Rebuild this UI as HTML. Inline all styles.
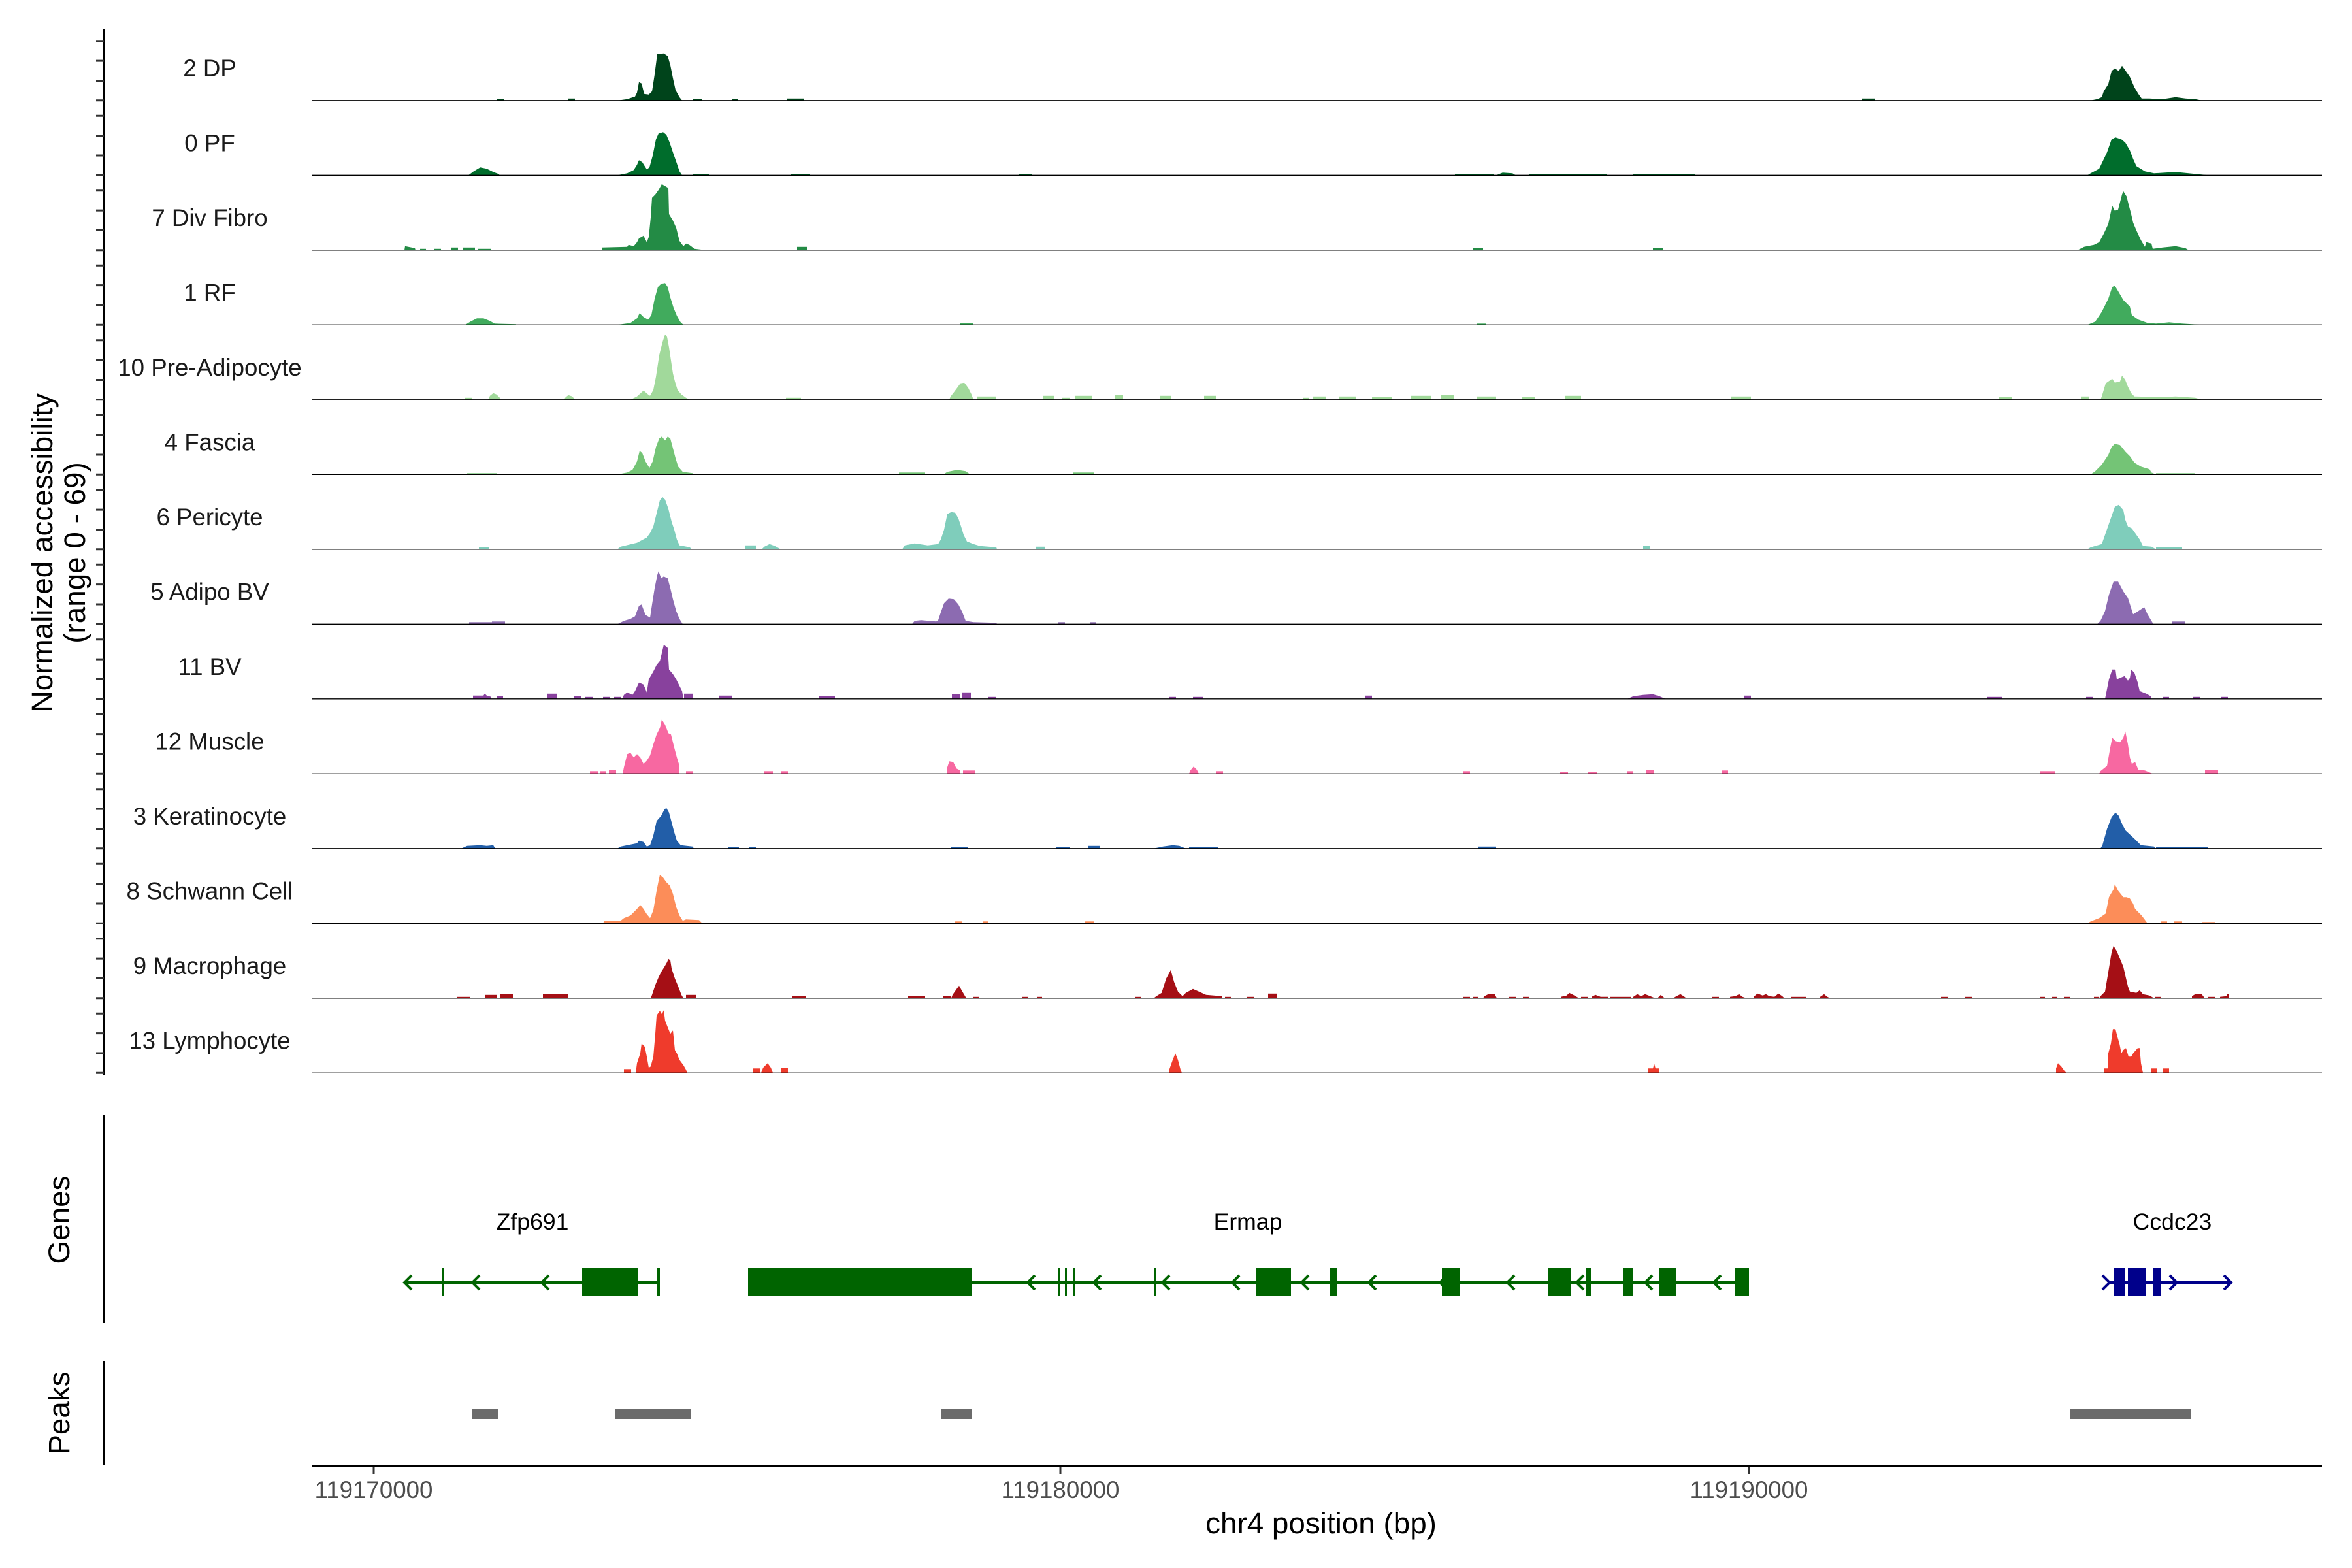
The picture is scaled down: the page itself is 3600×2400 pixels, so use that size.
<!DOCTYPE html>
<html><head><meta charset="utf-8"><style>
html,body{margin:0;padding:0;background:#fff;}
svg{display:block;font-family:"Liberation Sans",Arial,sans-serif;}
</style></head><body>
<svg width="3600" height="2400" viewBox="0 0 3600 2400" xmlns="http://www.w3.org/2000/svg">
<rect width="3600" height="2400" fill="#fff"/>
<defs>
<path id="tk" d="M147 0H159M147 -30.3H159M147 -60.7H159M147 -91H159" stroke="#333" stroke-width="3" fill="none"/>
<line id="bl" x1="478" y1="0" x2="3554" y2="0" stroke="#000" stroke-width="1.3"/>
</defs>

<!-- y axis title -->
<text transform="translate(80,846) rotate(-90)" text-anchor="middle" font-size="45.8" fill="#000">Normalized accessibility</text>
<text transform="translate(130,846) rotate(-90)" text-anchor="middle" font-size="45.8" fill="#000">(range 0 - 69)</text>
<line x1="159" y1="45" x2="159" y2="1645" stroke="#000" stroke-width="4"/>

<g font-size="36.7" fill="#1a1a1a" text-anchor="middle">
<!-- Track 0 -->
<g transform="translate(0,153.8)">
<use href="#tk"/><text x="321" y="-37">2 DP</text>
<g fill="#00441B">
<polygon points="946,0 960,-2 972,-6 975,-12 978,-28 982,-26 986,-10 993,-9 998,-14 1002,-40 1006,-71 1016,-72 1022,-68 1026,-54 1030,-34 1034,-16 1040,-5 1044,0"/>
<polygon points="3200,0 3210,-2 3217,-5 3220,-14 3227,-25 3232,-45 3237,-49 3243,-45 3248,-53 3253,-46 3260,-36 3267,-20 3273,-10 3278,-3 3290,-3 3310,-2 3330,-5 3345,-3 3360,-2 3370,0"/>
<rect x="1205" y="-3" width="25" height="3"/><rect x="2850" y="-3" width="20" height="3"/><rect x="760" y="-2" width="12" height="2"/><rect x="870" y="-3" width="10" height="3"/><rect x="1060" y="-2" width="15" height="2"/><rect x="1120" y="-2" width="10" height="2"/>
</g><use href="#bl"/></g>

<!-- Track 1 -->
<g transform="translate(0,268.3)">
<use href="#tk"/><text x="321" y="-37">0 PF</text>
<g fill="#006D2C">
<polygon points="717,0 725,-6 735,-12 745,-10 755,-5 763,-2 765,0"/>
<polygon points="945,0 960,-3 970,-8 975,-16 978,-23 983,-20 990,-9 994,-12 999,-30 1004,-55 1008,-64 1015,-66 1020,-62 1025,-50 1030,-35 1036,-18 1040,-6 1044,0"/>
<polygon points="3195,0 3200,-3 3213,-10 3225,-35 3232,-55 3238,-58 3247,-55 3253,-50 3260,-38 3265,-25 3270,-14 3283,-6 3297,-3 3330,-5 3350,-3 3380,0"/>
<polygon points="2290,0 2300,-4 2315,-3 2320,0"/>
<rect x="2227" y="-2" width="60" height="2"/><rect x="2340" y="-2" width="120" height="2"/><rect x="2500" y="-2" width="95" height="2"/><rect x="1060" y="-2" width="25" height="2"/><rect x="1210" y="-2" width="30" height="2"/><rect x="1560" y="-2" width="20" height="2"/>
</g><use href="#bl"/></g>

<!-- Track 2 -->
<g transform="translate(0,382.8)">
<use href="#tk"/><text x="321" y="-37">7 Div Fibro</text>
<g fill="#238B45">
<polygon points="619,0 620,-6 635,-3 636,0"/>
<rect x="643" y="-2" width="9" height="2"/><rect x="665" y="-2" width="10" height="2"/><rect x="690" y="-4" width="11" height="4"/><rect x="709" y="-4" width="18" height="4"/><rect x="731" y="-2" width="21" height="2"/>
<polygon points="921,0 922,-4 960,-5 962,-8 970,-6 975,-12 978,-18 985,-22 990,-12 993,-20 996,-50 998,-80 1003,-85 1008,-92 1013,-101 1018,-98 1023,-95 1024,-55 1030,-45 1035,-34 1040,-14 1046,-6 1050,-10 1055,-8 1063,-2 1080,0"/>
<rect x="1220" y="-5" width="15" height="5"/><rect x="2255" y="-3" width="15" height="3"/><rect x="2530" y="-3" width="15" height="3"/>
<polygon points="3180,0 3190,-5 3205,-8 3213,-12 3220,-25 3227,-40 3233,-68 3237,-60 3242,-62 3248,-85 3250,-90 3255,-82 3258,-70 3262,-55 3265,-42 3270,-30 3277,-15 3283,-5 3285,-12 3293,-10 3295,-2 3310,-4 3330,-6 3345,-3 3350,0"/>
</g><use href="#bl"/></g>

<!-- Track 3 -->
<g transform="translate(0,497.3)">
<use href="#tk"/><text x="321" y="-37">1 RF</text>
<g fill="#41AB5D">
<polygon points="712,0 720,-5 730,-10 740,-10 750,-6 757,-2 790,-1 790,0"/>
<polygon points="945,0 965,-3 975,-10 979,-18 985,-12 992,-8 997,-15 1002,-40 1007,-58 1012,-63 1018,-64 1022,-58 1026,-42 1031,-26 1036,-14 1041,-5 1046,0"/>
<polygon points="3195,0 3207,-5 3217,-20 3227,-40 3233,-58 3237,-60 3243,-50 3250,-38 3253,-35 3260,-28 3263,-15 3273,-8 3287,-3 3300,-2 3320,-4 3340,-2 3370,0"/>
<rect x="1470" y="-3" width="20" height="3"/><rect x="2260" y="-2" width="15" height="2"/>
</g><use href="#bl"/></g>

<!-- Track 4 -->
<g transform="translate(0,611.8)">
<use href="#tk"/><text x="321" y="-37">10 Pre-Adipocyte</text>
<g fill="#A1D99B">
<rect x="712" y="-3" width="10" height="3"/>
<polygon points="747,0 750,-6 755,-10 760,-8 765,-3 766,0"/>
<polygon points="863,0 866,-4 870,-7 876,-5 880,0"/>
<polygon points="965,0 975,-5 985,-14 992,-8 995,-6 1000,-15 1004,-35 1009,-68 1014,-88 1018,-100 1021,-96 1024,-80 1027,-60 1030,-40 1033,-28 1037,-15 1043,-8 1050,-3 1056,0"/>
<polygon points="1453,0 1455,-5 1459,-10 1465,-18 1470,-25 1476,-26 1482,-18 1487,-8 1490,0"/>
<rect x="1203" y="-3" width="23" height="3"/><rect x="1496" y="-5" width="29" height="5"/><rect x="1597" y="-6" width="17" height="6"/><rect x="1625" y="-3" width="12" height="3"/><rect x="1645" y="-6" width="26" height="6"/><rect x="1706" y="-7" width="13" height="7"/><rect x="1775" y="-6" width="17" height="6"/><rect x="1843" y="-6" width="18" height="6"/><rect x="1995" y="-3" width="8" height="3"/>
<rect x="2010" y="-5" width="20" height="5"/><rect x="2050" y="-5" width="25" height="5"/><rect x="2100" y="-4" width="30" height="4"/><rect x="2160" y="-6" width="30" height="6"/><rect x="2205" y="-7" width="20" height="7"/><rect x="2260" y="-5" width="30" height="5"/><rect x="2330" y="-4" width="20" height="4"/><rect x="2395" y="-6" width="25" height="6"/><rect x="2650" y="-5" width="30" height="5"/><rect x="3060" y="-4" width="20" height="4"/><rect x="3185" y="-5" width="12" height="5"/>
<polygon points="3215,0 3217,-5 3223,-25 3233,-32 3237,-26 3245,-28 3248,-37 3253,-30 3257,-20 3262,-10 3267,-5 3310,-4 3330,-5 3360,-3 3370,0"/>
</g><use href="#bl"/></g>

<!-- Track 5 -->
<g transform="translate(0,726.3)">
<use href="#tk"/><text x="321" y="-37">4 Fascia</text>
<g fill="#74C476">
<rect x="715" y="-2" width="45" height="2"/>
<polygon points="945,0 960,-3 968,-7 975,-20 979,-36 983,-33 988,-20 994,-10 999,-20 1004,-42 1009,-55 1013,-58 1018,-52 1022,-58 1026,-55 1030,-40 1034,-25 1038,-12 1045,-4 1060,-2 1062,0"/>
<rect x="1376" y="-3" width="40" height="3"/>
<polygon points="1444,0 1450,-4 1465,-7 1478,-5 1485,0"/>
<rect x="1642" y="-3" width="32" height="3"/>
<polygon points="3200,0 3207,-5 3217,-15 3227,-30 3232,-42 3237,-47 3245,-45 3253,-35 3260,-28 3267,-18 3277,-12 3290,-8 3293,-3 3300,0"/>
<rect x="3300" y="-2" width="60" height="2"/>
</g><use href="#bl"/></g>

<!-- Track 6 -->
<g transform="translate(0,840.8)">
<use href="#tk"/><text x="321" y="-37">6 Pericyte</text>
<g fill="#7FCDBB">
<rect x="733" y="-3" width="15" height="3"/>
<polygon points="945,0 950,-4 975,-10 990,-18 995,-25 1000,-35 1005,-55 1010,-75 1014,-80 1018,-76 1023,-62 1028,-42 1032,-30 1036,-15 1040,-6 1056,-3 1058,0"/>
<rect x="1140" y="-6" width="17" height="6"/>
<polygon points="1166,0 1170,-4 1178,-8 1186,-5 1195,0"/>
<polygon points="1381,0 1385,-6 1400,-9 1420,-6 1436,-8 1440,-15 1445,-30 1450,-54 1456,-57 1462,-56 1467,-47 1471,-35 1475,-22 1480,-12 1490,-8 1500,-5 1525,-3 1526,0"/>
<rect x="1585" y="-4" width="15" height="4"/><rect x="2515" y="-5" width="10" height="5"/>
<polygon points="3195,0 3200,-3 3217,-8 3223,-25 3230,-45 3237,-65 3243,-68 3250,-60 3253,-45 3257,-35 3263,-32 3268,-25 3275,-15 3280,-5 3293,-4 3300,0"/>
<rect x="3300" y="-3" width="40" height="3"/>
</g><use href="#bl"/></g>

<!-- Track 7 -->
<g transform="translate(0,955.3)">
<use href="#tk"/><text x="321" y="-37">5 Adipo BV</text>
<g fill="#8C6BB1">
<rect x="718" y="-3" width="40" height="3"/><rect x="753" y="-4" width="20" height="4"/>
<polygon points="945,0 955,-5 965,-8 972,-12 978,-28 982,-30 988,-14 995,-10 998,-30 1002,-55 1006,-75 1008,-81 1012,-70 1016,-73 1022,-70 1026,-55 1030,-38 1035,-20 1040,-8 1045,0"/>
<polygon points="1396,0 1400,-5 1410,-6 1433,-4 1436,-6 1440,-18 1445,-32 1452,-39 1460,-38 1467,-30 1473,-18 1478,-5 1490,-3 1525,-2 1526,0"/>
<rect x="1620" y="-3" width="10" height="3"/><rect x="1668" y="-3" width="10" height="3"/>
<polygon points="3210,0 3215,-5 3222,-20 3228,-45 3235,-65 3242,-65 3250,-50 3257,-40 3265,-15 3273,-20 3282,-26 3287,-15 3293,-5 3296,0"/>
<rect x="3325" y="-4" width="20" height="4"/>
</g><use href="#bl"/></g>

<!-- Track 8 -->
<g transform="translate(0,1069.8)">
<use href="#tk"/><text x="321" y="-37">11 BV</text>
<g fill="#88419D">
<polygon points="724,0 724,-5 740,-5 742,-8 745,-5 752,-3 752,0"/>
<rect x="761" y="-4" width="9" height="4"/><rect x="838" y="-8" width="15" height="8"/><rect x="879" y="-4" width="11" height="4"/><rect x="895" y="-3" width="12" height="3"/><rect x="923" y="-3" width="11" height="3"/><rect x="940" y="-3" width="10" height="3"/>
<polygon points="952,0 955,-6 960,-10 968,-6 972,-12 978,-25 985,-22 990,-10 993,-30 1000,-42 1005,-52 1010,-58 1013,-70 1016,-83 1022,-78 1024,-45 1030,-38 1035,-30 1040,-20 1044,-12 1046,0"/>
<rect x="1047" y="-8" width="13" height="8"/><rect x="1100" y="-5" width="20" height="5"/><rect x="1253" y="-4" width="25" height="4"/><rect x="1457" y="-7" width="13" height="7"/><rect x="1473" y="-10" width="13" height="10"/><rect x="1512" y="-3" width="12" height="3"/><rect x="1789" y="-3" width="11" height="3"/><rect x="1826" y="-3" width="15" height="3"/><rect x="2090" y="-5" width="10" height="5"/>
<polygon points="2491,0 2500,-4 2515,-6 2530,-7 2540,-4 2549,0"/>
<rect x="2670" y="-5" width="10" height="5"/><rect x="3042" y="-3" width="23" height="3"/><rect x="3193" y="-3" width="10" height="3"/><rect x="3310" y="-3" width="10" height="3"/><rect x="3357" y="-3" width="10" height="3"/><rect x="3400" y="-3" width="10" height="3"/>
<polygon points="3222,0 3223,-5 3228,-30 3233,-45 3238,-45 3240,-30 3247,-33 3252,-35 3257,-28 3260,-32 3262,-45 3267,-40 3272,-25 3275,-12 3285,-8 3292,-4 3293,0"/>
</g><use href="#bl"/></g>

<!-- Track 9 -->
<g transform="translate(0,1184.3)">
<use href="#tk"/><text x="321" y="-37">12 Muscle</text>
<g fill="#F768A1">
<rect x="903" y="-4" width="12" height="4"/><rect x="918" y="-4" width="9" height="4"/><rect x="932" y="-6" width="11" height="6"/>
<polygon points="953,0 955,-10 960,-30 965,-32 970,-25 975,-30 980,-25 985,-15 990,-20 995,-28 1000,-45 1005,-60 1010,-70 1013,-83 1018,-75 1023,-62 1027,-60 1032,-40 1036,-25 1040,-12 1040,0"/>
<rect x="1050" y="-4" width="10" height="4"/><rect x="1169" y="-4" width="14" height="4"/><rect x="1195" y="-4" width="11" height="4"/>
<polygon points="1449,0 1450,-10 1453,-19 1459,-18 1464,-8 1470,-5 1470,0"/>
<rect x="1474" y="-5" width="19" height="5"/>
<polygon points="1820,0 1822,-5 1827,-11 1832,-6 1835,0"/>
<rect x="1861" y="-4" width="11" height="4"/><rect x="2240" y="-4" width="10" height="4"/><rect x="2388" y="-3" width="12" height="3"/><rect x="2430" y="-3" width="15" height="3"/><rect x="2490" y="-4" width="10" height="4"/><rect x="2520" y="-6" width="12" height="6"/><rect x="2635" y="-5" width="10" height="5"/><rect x="3123" y="-4" width="22" height="4"/><rect x="3375" y="-6" width="20" height="6"/>
<polygon points="3213,0 3215,-4 3225,-12 3230,-40 3233,-55 3238,-50 3245,-48 3250,-55 3253,-65 3257,-45 3260,-25 3263,-15 3268,-18 3273,-6 3283,-5 3295,0"/>
</g><use href="#bl"/></g>

<!-- Track 10 -->
<g transform="translate(0,1298.8)">
<use href="#tk"/><text x="321" y="-37">3 Keratinocyte</text>
<g fill="#225EA8">
<polygon points="706,0 715,-4 735,-5 745,-4 755,-5 758,0"/>
<polygon points="945,0 950,-3 975,-8 978,-12 985,-10 990,-3 995,-5 1000,-20 1005,-42 1012,-50 1017,-60 1020,-62 1024,-55 1028,-40 1032,-25 1036,-12 1042,-5 1060,-3 1062,0"/>
<rect x="1114" y="-2" width="17" height="2"/><rect x="1146" y="-2" width="11" height="2"/><rect x="1456" y="-2" width="26" height="2"/><rect x="1617" y="-2" width="20" height="2"/><rect x="1666" y="-4" width="17" height="4"/>
<polygon points="1766,0 1780,-3 1795,-5 1805,-4 1815,0"/>
<rect x="1820" y="-2" width="45" height="2"/><rect x="2262" y="-3" width="28" height="3"/>
<polygon points="3215,0 3218,-5 3225,-30 3232,-48 3238,-55 3243,-50 3247,-40 3253,-28 3267,-15 3277,-5 3297,-3 3300,0"/>
<rect x="3300" y="-2" width="80" height="2"/>
</g><use href="#bl"/></g>

<!-- Track 11 -->
<g transform="translate(0,1413.3)">
<use href="#tk"/><text x="321" y="-37">8 Schwann Cell</text>
<g fill="#FC8D59">
<polygon points="923,0 925,-4 950,-4 955,-8 965,-12 975,-22 980,-28 985,-22 990,-14 995,-8 1000,-20 1005,-50 1008,-65 1010,-74 1015,-70 1020,-63 1025,-58 1030,-45 1035,-25 1040,-12 1045,-4 1050,-6 1070,-5 1075,0"/>
<rect x="1462" y="-3" width="10" height="3"/><rect x="1505" y="-3" width="8" height="3"/><rect x="1660" y="-3" width="15" height="3"/>
<polygon points="3195,0 3200,-3 3213,-8 3223,-15 3228,-40 3235,-52 3237,-60 3242,-50 3250,-40 3255,-40 3260,-38 3265,-30 3268,-22 3278,-12 3287,0"/>
<rect x="3307" y="-3" width="10" height="3"/><rect x="3327" y="-3" width="13" height="3"/><rect x="3370" y="-2" width="20" height="2"/>
</g><use href="#bl"/></g>

<!-- Track 12 -->
<g transform="translate(0,1527.8)">
<use href="#tk"/><text x="321" y="-37">9 Macrophage</text>
<g fill="#A50F15">
<rect x="700" y="-2" width="20" height="2"/><rect x="743" y="-5" width="17" height="5"/><rect x="765" y="-6" width="20" height="6"/><rect x="831" y="-6" width="39" height="6"/>
<polygon points="996,0 998,-5 1003,-20 1008,-32 1012,-40 1017,-48 1021,-55 1023,-60 1026,-58 1028,-45 1033,-30 1038,-18 1043,-5 1046,0"/>
<rect x="1050" y="-5" width="15" height="5"/><rect x="1213" y="-3" width="21" height="3"/><rect x="1390" y="-3" width="26" height="3"/><rect x="1443" y="-3" width="12" height="3"/>
<polygon points="1456,0 1458,-5 1465,-15 1468,-19 1473,-10 1479,0"/>
<rect x="1489" y="-2" width="9" height="2"/><rect x="1564" y="-2" width="10" height="2"/><rect x="1587" y="-2" width="8" height="2"/><rect x="1737" y="-2" width="10" height="2"/>
<polygon points="1766,0 1770,-3 1778,-8 1785,-30 1792,-43 1797,-25 1803,-10 1810,-3 1815,-8 1826,-14 1835,-10 1846,-5 1870,-3 1870,0"/>
<rect x="1875" y="-2" width="9" height="2"/><rect x="1909" y="-2" width="11" height="2"/><rect x="1941" y="-7" width="14" height="7"/>
<rect x="2240" y="-2" width="10" height="2"/><rect x="2254" y="-2" width="8" height="2"/>
<polygon points="2270,0 2272,-3 2278,-6 2288,-6 2291,0"/>
<rect x="2310" y="-2" width="10" height="2"/><rect x="2331" y="-2" width="10" height="2"/>
<polygon points="2389,0 2389,-2 2398,-4 2402,-8 2408,-5 2417,0"/>
<rect x="2420" y="-2" width="11" height="2"/>
<polygon points="2436,0 2436,-2 2442,-5 2450,-2 2461,-2 2461,0"/>
<rect x="2465" y="-2" width="31" height="2"/>
<polygon points="2500,0 2500,-2 2506,-6 2512,-3 2518,-6 2526,-3 2533,0"/>
<polygon points="2537,0 2542,-5 2548,0"/>
<polygon points="2561,0 2566,-3 2572,-6 2577,-3 2581,0"/>
<rect x="2621" y="-2" width="10" height="2"/>
<polygon points="2648,0 2648,-2 2656,-3 2662,-6 2667,-2 2673,0"/>
<polygon points="2684,0 2684,-2 2690,-7 2698,-4 2703,-6 2708,-3 2716,-2 2722,-7 2728,-3 2731,0"/>
<rect x="2741" y="-2" width="23" height="2"/>
<polygon points="2786,0 2786,-2 2792,-6 2797,-2 2801,0"/>
<rect x="2971" y="-2" width="10" height="2"/><rect x="3007" y="-2" width="11" height="2"/><rect x="3122" y="-2" width="8" height="2"/><rect x="3141" y="-2" width="8" height="2"/><rect x="3159" y="-2" width="10" height="2"/><rect x="3205" y="-2" width="8" height="2"/><rect x="3299" y="-2" width="8" height="2"/>
<polygon points="3355,0 3355,-3 3360,-6 3370,-6 3373,-2 3373,0"/>
<rect x="3379" y="-2" width="11" height="2"/>
<polygon points="3398,0 3398,-2 3408,-3 3409,-6 3412,-6 3412,0"/>
<polygon points="3213,0 3215,-3 3222,-10 3227,-40 3232,-70 3235,-80 3240,-72 3245,-60 3250,-48 3253,-35 3257,-18 3260,-10 3270,-8 3275,-12 3280,-6 3290,-4 3297,0"/>
</g><use href="#bl"/></g>

<!-- Track 13 -->
<g transform="translate(0,1642.3)">
<use href="#tk"/><text x="321" y="-37">13 Lymphocyte</text>
<g fill="#EF3B2C">
<rect x="955" y="-6" width="11" height="6"/>
<polygon points="973,0 975,-15 980,-30 982,-45 987,-40 990,-25 993,-8 996,-10 1000,-25 1003,-60 1005,-88 1010,-95 1013,-90 1016,-96 1018,-80 1022,-70 1026,-60 1030,-65 1033,-35 1036,-30 1040,-20 1046,-12 1050,-5 1052,0"/>
<rect x="1152" y="-7" width="11" height="7"/>
<polygon points="1165,0 1168,-8 1175,-15 1180,-8 1183,0"/>
<rect x="1195" y="-8" width="11" height="8"/>
<polygon points="1789,0 1790,-6 1795,-20 1799,-30 1803,-20 1807,-5 1809,0"/>
<polygon points="2522,0 2522,-7 2530,-7 2532,-14 2534,-7 2540,-7 2540,0"/>
<polygon points="3147,0 3147,-7 3150,-15 3155,-10 3160,-3 3163,0"/>
<polygon points="3220,0 3220,-7 3226,-7 3227,-30 3231,-45 3234,-67 3238,-67 3241,-55 3244,-45 3247,-30 3250,-35 3254,-38 3258,-25 3262,-25 3265,-30 3272,-38 3275,-38 3277,-15 3280,0"/>
<rect x="3293" y="-7" width="8" height="7"/><rect x="3311" y="-7" width="9" height="7"/>
</g><use href="#bl"/></g>
</g>

<!-- Genes panel -->
<text transform="translate(106,1867) rotate(-90)" text-anchor="middle" font-size="45.8" fill="#000">Genes</text>
<line x1="159" y1="1706" x2="159" y2="2025" stroke="#000" stroke-width="4"/>
<g font-size="35.6" fill="#000" text-anchor="middle">
<text x="815" y="1882">Zfp691</text>
<text x="1910" y="1882">Ermap</text>
<text x="3325" y="1882">Ccdc23</text>
</g>
<g stroke="#006400" fill="none">
<line x1="620" y1="1963" x2="1008" y2="1963" stroke-width="4"/>
<line x1="1145" y1="1963" x2="2677" y2="1963" stroke-width="4"/>
<g stroke-width="4">
<polyline points="630,1952 619,1963 630,1974"/>
<polyline points="734,1952 723,1963 734,1974"/>
<polyline points="840,1952 829,1963 840,1974"/>
<polyline points="1584,1952 1573,1963 1584,1974"/>
<polyline points="1685,1952 1674,1963 1685,1974"/>
<polyline points="1790,1952 1779,1963 1790,1974"/>
<polyline points="1897,1952 1886,1963 1897,1974"/>
<polyline points="2003,1952 1992,1963 2003,1974"/>
<polyline points="2106,1952 2095,1963 2106,1974"/>
<polyline points="2215,1952 2204,1963 2215,1974"/>
<polyline points="2318,1952 2307,1963 2318,1974"/>
<polyline points="2424,1952 2413,1963 2424,1974"/>
<polyline points="2529,1952 2518,1963 2529,1974"/>
<polyline points="2634,1952 2623,1963 2634,1974"/>
</g>
</g>
<g fill="#006400">
<rect x="676" y="1941" width="4" height="43"/>
<rect x="891" y="1941" width="86" height="43"/>
<rect x="1006" y="1941" width="4" height="43"/>
<rect x="1145" y="1941" width="343" height="43"/>
<rect x="1620" y="1941" width="3" height="43"/><rect x="1630" y="1941" width="3" height="43"/><rect x="1642" y="1941" width="3" height="43"/>
<rect x="1767" y="1941" width="2" height="43"/>
<rect x="1923" y="1941" width="53" height="43"/>
<rect x="2035" y="1941" width="12" height="43"/>
<rect x="2207" y="1941" width="28" height="43"/>
<rect x="2370" y="1941" width="35" height="43"/>
<rect x="2427" y="1941" width="8" height="43"/>
<rect x="2484" y="1941" width="16" height="43"/>
<rect x="2539" y="1941" width="26" height="43"/>
<rect x="2656" y="1941" width="21" height="43"/>
</g>
<g stroke="#00008B" fill="none">
<line x1="3227" y1="1963" x2="3414" y2="1963" stroke-width="4"/>
<g stroke-width="4">
<polyline points="3218,1952 3229,1963 3218,1974"/>
<polyline points="3321,1952 3332,1963 3321,1974"/>
<polyline points="3404,1952 3415,1963 3404,1974"/>
</g>
</g>
<g fill="#00008B">
<rect x="3235" y="1941" width="18" height="43"/>
<rect x="3257" y="1941" width="27" height="43"/>
<rect x="3295" y="1941" width="13" height="43"/>
</g>

<!-- Peaks panel -->
<text transform="translate(106,2163) rotate(-90)" text-anchor="middle" font-size="45.8" fill="#000">Peaks</text>
<line x1="159" y1="2083" x2="159" y2="2243" stroke="#000" stroke-width="4"/>
<g fill="#6b6b6b">
<rect x="723" y="2156" width="39" height="16"/>
<rect x="941" y="2156" width="117" height="16"/>
<rect x="1440" y="2156" width="48" height="16"/>
<rect x="3168" y="2156" width="186" height="16"/>
</g>

<!-- x axis -->
<line x1="478" y1="2244" x2="3554" y2="2244" stroke="#000" stroke-width="4"/>
<g stroke="#333" stroke-width="3">
<line x1="572" y1="2246" x2="572" y2="2256"/>
<line x1="1623" y1="2246" x2="1623" y2="2256"/>
<line x1="2677" y1="2246" x2="2677" y2="2256"/>
</g>
<g font-size="36.7" fill="#4D4D4D" text-anchor="middle">
<text x="572" y="2293">119170000</text>
<text x="1623" y="2293">119180000</text>
<text x="2677" y="2293">119190000</text>
</g>
<text x="2022" y="2347" font-size="45.8" fill="#000" text-anchor="middle">chr4 position (bp)</text>
</svg>
</body></html>
